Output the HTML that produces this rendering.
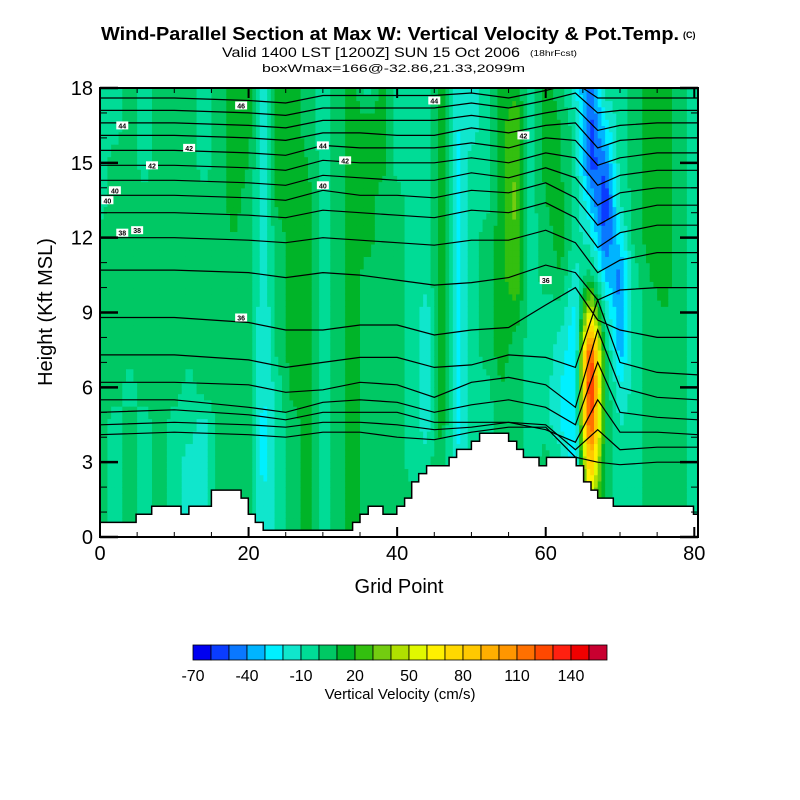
<!DOCTYPE html>
<html><head><meta charset="utf-8"><style>
body{margin:0;background:#fff}
svg{display:block;font-family:"Liberation Sans",Arial,sans-serif}
</style></head><body>
<svg id="chart" width="800" height="800" viewBox="0 0 800 800" xmlns="http://www.w3.org/2000/svg">
<defs><clipPath id="plotclip"><rect x="100" y="88" width="598" height="449"/></clipPath></defs>
<rect width="800" height="800" fill="#fff"/>
<text x="390" y="40" text-anchor="middle" font-size="18" font-weight="bold" textLength="578" lengthAdjust="spacingAndGlyphs">Wind-Parallel Section at Max W: Vertical Velocity &amp; Pot.Temp.</text>
<text x="683" y="38" font-size="9" font-weight="bold">(C)</text>
<text x="222" y="57" font-size="14" textLength="298" lengthAdjust="spacingAndGlyphs">Valid 1400 LST [1200Z] SUN 15 Oct 2006</text>
<text x="530" y="56" font-size="8" textLength="47" lengthAdjust="spacingAndGlyphs">(18hrFcst)</text>
<text x="262" y="72" font-size="11" textLength="263" lengthAdjust="spacingAndGlyphs">boxWmax=166@-32.86,21.33,2099m</text>
<g clip-path="url(#plotclip)">
<g id="field"></g>
<g id="contours"></g>
<g id="terrain"></g>
<g id="labels"></g>
</g>
<g id="axes"></g>
<g id="cbar"></g>
<text x="399" y="593" text-anchor="middle" font-size="20">Grid Point</text>
<text transform="translate(52,312) rotate(-90)" text-anchor="middle" font-size="20">Height (Kft MSL)</text>
<text x="400" y="699" text-anchor="middle" font-size="15">Vertical Velocity (cm/s)</text>
</svg>
<script>
const colGrid=[0,2,4,6,8,10,12,14,16,18,20,22,24,26,28,30,32,34,36,38,40,42,44,46,48,50,52,54,56,58,60,62,64,66,68,70,72,74,76,78,80];
const rowHeights=[18,16.5,15,13.5,12,10.5,9,7.5,6,4.5,3,1.5,0];
const wRow18=[-5,-5,5,-5,5,5,5,-5,5,15,15,-15,15,15,5,-5,5,15,-5,15,-5,-5,-5,15,-15,-15,-5,15,15,-5,15,5,-20,-50,-5,-5,5,15,15,5,-5];
const wRow165=[-5,-5,5,-5,5,5,5,-5,5,15,15,-15,15,15,5,-5,5,15,15,15,-5,-5,-5,15,-20,-15,-5,15,30,-5,15,10,-5,-55,-25,-5,5,15,15,5,-5];
const wRow15=[-5,5,5,-5,5,5,5,-5,5,15,10,-15,15,15,10,-5,5,15,15,15,-5,-5,-5,15,-25,-5,-5,15,30,-5,15,10,-5,-55,-45,-5,5,15,15,5,-5];
const wRow135=[-5,5,5,5,5,5,5,5,5,15,5,-15,15,15,15,-5,5,15,15,5,5,-5,-5,15,-25,-5,-5,15,35,-5,10,15,-5,-30,-60,-10,5,15,15,5,-5];
const wRow12=[5,5,5,5,5,5,5,5,5,10,5,-15,5,15,15,-5,5,15,15,5,5,-5,-5,15,-25,-5,5,15,30,-5,5,15,-5,-15,-50,-25,5,15,15,5,-5];
const wRow105=[5,5,5,5,5,5,5,5,5,5,5,-15,5,15,15,-5,5,15,5,5,5,-5,-5,15,-25,-5,5,15,30,-5,5,10,-15,5,-30,-45,-5,10,15,5,-5];
const wRow9=[5,5,5,5,5,5,5,5,5,5,5,-20,5,15,15,-5,5,15,5,5,5,-5,-15,15,-25,-5,5,15,15,-5,-5,-5,-25,60,-10,-40,-5,5,10,5,-5];
const wRow75=[5,5,5,5,5,5,5,5,5,5,5,-20,5,15,15,-5,5,15,5,5,5,-5,-15,15,-25,-5,5,15,5,-5,-5,-15,-30,130,5,-35,-5,5,5,5,-5];
const wRow6=[5,5,-5,5,5,5,-5,5,5,5,5,-20,-5,15,15,-5,5,15,5,5,5,-5,-15,15,-25,-5,-5,10,5,-5,-5,-20,-30,145,10,-20,-5,5,5,5,-5];
const wRow45=[5,-5,5,-5,5,-5,-5,-15,5,5,5,-25,-5,5,15,-5,5,15,5,5,5,-5,-15,15,-25,-5,-5,5,5,-5,-5,-20,-30,130,10,-10,-5,5,5,5,-5];
const wRow3=[5,-5,5,-5,5,-5,-15,-15,5,5,5,-25,-5,5,15,-5,5,15,5,5,5,-5,-5,10,-20,-5,-5,5,5,-5,5,-5,-30,90,5,-5,-5,5,5,5,-5];
const wRow15low=[5,-5,5,-5,5,-5,-15,-15,5,5,5,-20,-5,5,15,-5,5,15,5,5,5,5,5,5,-5,5,-5,-5,5,5,-5,-5,-20,50,5,-5,-5,5,5,5,-5];
const wRow0=[5,-5,5,-5,5,-5,-15,-15,5,5,5,-20,-5,5,15,-5,5,15,5,5,5,5,5,5,-5,5,-5,-5,5,5,-5,-5,-20,50,5,-5,-5,5,5,5,-5];
const wGrid=[wRow18,wRow165,wRow15,wRow135,wRow12,wRow105,wRow9,wRow75,wRow6,wRow45,wRow3,wRow15low,wRow0];

const cbarColors=["#0000f0","#0a3cff","#0a78ff","#00b4ff","#00f0ff","#10e6cc","#00dc96","#00c864","#00b428","#33bf0f","#73cc10","#b0e000","#e0f800","#fff000","#ffd800","#ffc800","#ffaf00","#ff9600","#ff7000","#ff4800","#ff2010","#f00000","#c80030"];
const cbarTicks=[-70,-40,-10,20,50,80,110,140];
const xTicks=[0,20,40,60,80];
const yTicks=[0,3,6,9,12,15,18];

const terrainX=[0,4.86,6.96,10.9,11.97,15,19,19.96,20.9,21.97,34,35,36.1,38.1,39.95,41,41.96,42.9,43.96,47,48,50,51.1,55,56.1,57,59.1,60.1,64.1,65.1,66.1,67,69.1,79.9];
const terrainH=[0.585,0.91,1.235,0.91,1.235,1.88,1.56,0.91,0.585,0.27,0.585,0.91,1.235,0.91,1.235,1.56,2.21,2.54,2.86,3.19,3.51,3.84,4.16,3.84,3.51,3.19,2.86,3.19,2.86,2.21,1.88,1.56,1.235,0.91];

const contourX=[0,10,20,25,30,35,40,45,50,55,60,64,67,70,75,80.5];
const thetaLines=[
 [17.6,17.6,17.5,17.4,17.7,17.7,17.7,17.7,17.8,17.6,17.9,18.2,17.6,17.6,17.6,17.6],
 [17.1,17.1,17.0,16.9,17.2,17.2,17.2,17.2,17.4,17.2,17.5,17.8,17.0,17.1,17.1,17.1],
 [16.6,16.6,16.5,16.4,16.7,16.7,16.7,16.7,16.9,16.7,17.0,17.2,16.3,16.5,16.6,16.6],
 [16.1,16.1,16.0,15.9,16.2,16.2,16.1,16.1,16.4,16.2,16.5,16.6,15.6,15.9,16.0,16.0],
 [15.5,15.5,15.4,15.3,15.7,15.6,15.6,15.6,15.8,15.6,16.0,15.9,14.9,15.2,15.4,15.4],
 [14.9,14.9,14.8,14.7,15.1,15.0,15.0,15.0,15.2,15.0,15.4,15.2,14.1,14.5,14.7,14.7],
 [14.3,14.3,14.2,14.1,14.5,14.4,14.3,14.3,14.6,14.4,14.8,14.4,13.3,13.8,14.0,14.0],
 [13.7,13.7,13.6,13.5,13.9,13.7,13.7,13.6,13.9,13.8,14.2,13.6,12.5,13.0,13.3,13.3],
 [13.0,13.0,12.9,12.8,13.1,13.0,12.9,12.8,13.1,13.0,13.4,12.8,11.6,12.2,12.5,12.5],
 [12.0,12.0,11.9,11.8,12.0,11.9,11.8,11.7,11.9,11.9,12.3,11.8,10.6,11.1,11.4,11.4],
 [10.7,10.7,10.6,10.4,10.6,10.5,10.3,10.1,10.2,10.4,10.9,10.6,9.5,9.9,10.0,10.0],
 [8.8,8.8,8.6,8.3,8.3,8.5,8.5,8.1,8.3,8.4,9.3,10.0,8.7,8.3,8.0,8.0],
 [7.3,7.3,7.1,6.8,7.0,7.2,7.2,6.8,6.9,7.3,7.2,6.8,9.5,7.0,6.6,6.5],
 [6.2,6.2,6.1,5.8,5.9,6.2,6.1,5.6,6.2,6.4,6.1,5.2,8.3,6.0,5.6,5.5],
 [5.5,5.5,5.2,5.0,5.4,5.5,5.4,5.0,5.3,5.5,5.2,4.5,7.0,5.0,4.8,4.7],
 [5.0,5.1,4.9,4.7,5.0,5.0,5.0,4.6,4.6,4.6,4.3,3.8,5.5,4.2,4.2,4.1],
 [4.5,4.6,4.5,4.4,4.6,4.6,4.5,4.3,4.4,4.6,4.5,3.5,4.3,3.5,3.6,3.6],
 [4.1,4.2,4.1,4.0,4.2,4.2,4.0,3.9,4.2,4.4,4.4,3.2,3.0,2.9,3.0,3.0]
];
const labelX=[3,12,19,30,33,45,57,2,7,30,1,3,19,5,60];
const labelH=[16.5,15.6,17.3,15.7,15.1,17.5,16.1,13.9,14.9,14.1,13.5,12.2,8.8,12.3,10.3];
const labelText=["44","42","46","44","42","44","42","40","42","40","40","38","36","38","36"];

const NS="http://www.w3.org/2000/svg";
const X0=100,X1=698,Y0=537,Y1=88,GMAX=80.5,HMAX=18;
const xs=g=>X0+g*(X1-X0)/GMAX;
const ys=h=>Y0-h*(Y0-Y1)/HMAX;
function mk(tag,attrs,parent){const e=document.createElementNS(NS,tag);for(const k in attrs)e.setAttribute(k,attrs[k]);parent.appendChild(e);return e;}
function colorFor(v){let b=Math.floor((v+70)/10);if(b<0)b=0;if(b>22)b=22;return cbarColors[b];}
function sample(g,h){
  let ci=0;while(ci<colGrid.length-2&&colGrid[ci+1]<g)ci++;
  let tx=(g-colGrid[ci])/(colGrid[ci+1]-colGrid[ci]);tx=Math.max(0,Math.min(1,tx));
  let ri=0;while(ri<rowHeights.length-2&&rowHeights[ri+1]>h)ri++;
  let ty=(rowHeights[ri]-h)/(rowHeights[ri]-rowHeights[ri+1]);ty=Math.max(0,Math.min(1,ty));
  const a=wGrid[ri][ci],b=wGrid[ri][ci+1],c=wGrid[ri+1][ci],d=wGrid[ri+1][ci+1];
  return (a*(1-tx)+b*tx)*(1-ty)+(c*(1-tx)+d*tx)*ty;
}
const field=document.getElementById('field');
const dg=0.5,dh=0.25;
for(let g=0;g<GMAX;g+=dg){for(let h=0;h<HMAX;h+=dh){
  const v=sample(g+dg/2,h+dh/2);
  const r=mk('rect',{x:xs(g).toFixed(2),y:ys(h+dh).toFixed(2),width:(xs(g+dg)-xs(g)+0.6).toFixed(2),height:(ys(h)-ys(h+dh)+0.6).toFixed(2),fill:colorFor(v)},field);
  
  
}}
const cont=document.getElementById('contours');
thetaLines.forEach((line)=>{
  const pts=line.map((h,i)=>xs(contourX[i]).toFixed(1)+','+ys(h).toFixed(1)).join(' ');
  const p=mk('polyline',{points:pts,fill:'none',stroke:'#000','stroke-width':1.2},cont);
  
  
});
const ter=document.getElementById('terrain');
let d='M'+xs(0)+','+ys(0);
for(let i=0;i<terrainX.length;i++){
  const x0=xs(terrainX[i]),x1=xs(i+1<terrainX.length?terrainX[i+1]:GMAX);
  d+=' L'+x0.toFixed(1)+','+ys(terrainH[i]).toFixed(1)+' L'+x1.toFixed(1)+','+ys(terrainH[i]).toFixed(1);
}
d+=' L'+xs(GMAX)+','+ys(0)+' Z';
const tp=mk('path',{d:d,fill:'#fff',stroke:'#000','stroke-width':1.5},ter);


const lab=document.getElementById('labels');
labelText.forEach((t,i)=>{
  const x=xs(labelX[i]),y=ys(labelH[i]);
  const r=mk('rect',{x:x-6,y:y-4,width:12,height:8,fill:'#fff'},lab);
  
  
  const tx=mk('text',{x:x,y:y+3,'text-anchor':'middle','font-size':7,'font-weight':'bold'},lab);
  tx.textContent=t;
  
  
});
const ax=document.getElementById('axes');
const fr=mk('rect',{x:X0,y:Y1,width:X1-X0,height:Y0-Y1,fill:'none',stroke:'#000','stroke-width':2},ax);


for(let g=0;g<=80;g+=5){
  const major=g%20===0,L=major?10:5,x=xs(g);
  const t1=mk('line',{x1:x,y1:Y0,x2:x,y2:Y0-L,stroke:'#000','stroke-width':major?2:1},ax);
  
  
  const t2=mk('line',{x1:x,y1:Y1,x2:x,y2:Y1+L,stroke:'#000','stroke-width':major?2:1},ax);
  
  
}
for(let h=0;h<=18;h+=1){
  const major=h%3===0,L=major?18:7,y=ys(h);
  const t1=mk('line',{x1:X0,y1:y,x2:X0+L,y2:y,stroke:'#000','stroke-width':major?2.5:1},ax);
  
  
  const t2=mk('line',{x1:X1,y1:y,x2:X1-L,y2:y,stroke:'#000','stroke-width':major?2.5:1},ax);
  
  
}
xTicks.forEach(v=>{
  const t=mk('text',{x:xs(v),y:560,'text-anchor':'middle','font-size':20},ax);t.textContent=v;
  
  
});
yTicks.forEach(v=>{
  const t=mk('text',{x:93,y:ys(v)+7,'text-anchor':'end','font-size':20},ax);t.textContent=v;
  
  
});
const cb=document.getElementById('cbar');
const CB0=193,CBW=18,CBY=645,CBH=15;
cbarColors.forEach((c,i)=>{
  const r=mk('rect',{x:CB0+i*CBW,y:CBY,width:CBW,height:CBH,fill:c,stroke:'#000','stroke-width':0.8},cb);
  
  
});
cbarTicks.forEach(v=>{
  const i=(v+70)/10;
  const t=mk('text',{x:CB0+i*CBW,y:681,'text-anchor':'middle','font-size':16},cb);t.textContent=v;
  
  
});
</script>
</body></html>
